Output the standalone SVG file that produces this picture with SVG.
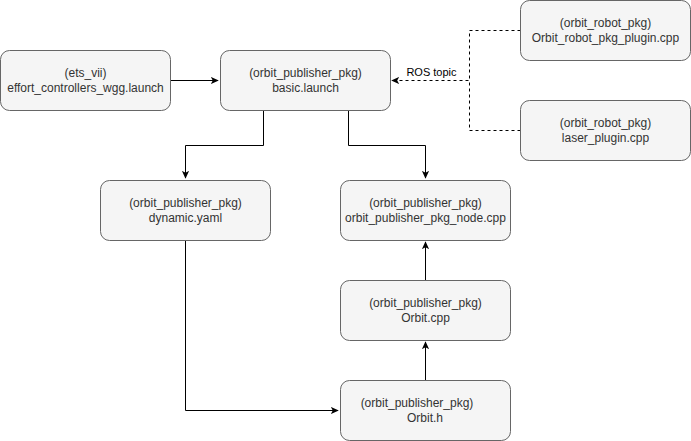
<svg xmlns="http://www.w3.org/2000/svg" width="691" height="441" viewBox="0 0 691 441">
<defs>
<marker id="arr" viewBox="0 0 10 10" refX="9" refY="5" markerWidth="8" markerHeight="8" markerUnits="userSpaceOnUse" orient="auto">
<path d="M0,0.5 L10,5 L0,9.5 L2.5,5 Z" fill="#000"/>
</marker>
</defs>
<style>
.box{fill:#f5f5f5;stroke:#666666;stroke-width:1}
.t{font-family:"Liberation Sans",Arial,sans-serif;font-size:12px;fill:#333333;text-anchor:middle}
.c{fill:none;stroke:#000;stroke-width:1}
.d{stroke-dasharray:3,3}
.lbl{font-family:"Liberation Sans",Arial,sans-serif;font-size:11px;fill:#000;text-anchor:middle}
</style>
<rect width="691" height="441" fill="#ffffff"/>
<g id="connectors">
<path class="c" d="M170.5,80.5 H218" marker-end="url(#arr)"/>
<path class="c" d="M263.5,110.5 V145.5 H185.5 V178" marker-end="url(#arr)"/>
<path class="c" d="M348.5,110.5 V145.5 H425.5 V178" marker-end="url(#arr)"/>
<path class="c" d="M185.5,240.5 V410.5 H338" marker-end="url(#arr)"/>
<path class="c" d="M425.5,380.5 V342" marker-end="url(#arr)"/>
<path class="c" d="M425.5,280.5 V242" marker-end="url(#arr)"/>
<path class="c d" d="M520.5,30.5 H469.5 V80.5 H392" marker-end="url(#arr)"/>
<path class="c d" d="M520.5,130.5 H469.5 V80.5"/>
<text class="lbl" x="431.5" y="75.5">ROS topic</text>
</g>
<g id="ets_vii">
<rect class="box" x="0.5" y="50.5" width="170" height="60" rx="9"/>
<text class="t" x="85.5" y="77">(ets_vii)</text>
<text class="t" x="85.5" y="92">effort_controllers_wgg.launch</text>
</g>
<g id="basic">
<rect class="box" x="220.5" y="50.5" width="170" height="60" rx="9"/>
<text class="t" x="305.5" y="77">(orbit_publisher_pkg)</text>
<text class="t" x="305.5" y="92">basic.launch</text>
</g>
<g id="robot_plugin">
<rect class="box" x="520.5" y="0.5" width="170" height="60" rx="9"/>
<text class="t" x="605.5" y="27">(orbit_robot_pkg)</text>
<text class="t" x="605.5" y="42">Orbit_robot_pkg_plugin.cpp</text>
</g>
<g id="laser_plugin">
<rect class="box" x="520.5" y="100.5" width="170" height="60" rx="9"/>
<text class="t" x="605.5" y="127">(orbit_robot_pkg)</text>
<text class="t" x="605.5" y="142">laser_plugin.cpp</text>
</g>
<g id="dynamic">
<rect class="box" x="100.5" y="180.5" width="170" height="60" rx="9"/>
<text class="t" x="185.5" y="207">(orbit_publisher_pkg)</text>
<text class="t" x="185.5" y="222">dynamic.yaml</text>
</g>
<g id="node_cpp">
<rect class="box" x="340.5" y="180.5" width="170" height="60" rx="9"/>
<text class="t" x="425.5" y="207">(orbit_publisher_pkg)</text>
<text class="t" x="425.5" y="222">orbit_publisher_pkg_node.cpp</text>
</g>
<g id="orbit_cpp">
<rect class="box" x="340.5" y="280.5" width="170" height="60" rx="9"/>
<text class="t" x="425.5" y="307">(orbit_publisher_pkg)</text>
<text class="t" x="425.5" y="322">Orbit.cpp</text>
</g>
<g id="orbit_h">
<rect class="box" x="340.5" y="380.5" width="170" height="60" rx="9"/>
<text class="t" x="417" y="407">(orbit_publisher_pkg)</text>
<text class="t" x="425" y="422">Orbit.h</text>
</g>
</svg>
